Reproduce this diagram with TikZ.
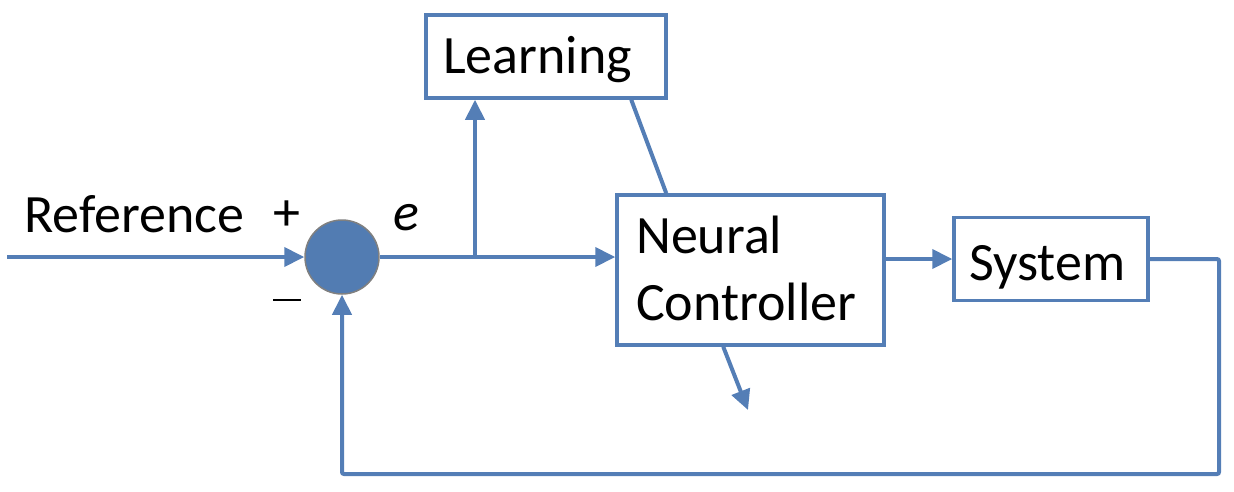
\documentclass[tikz,border=0pt]{standalone}
\usepackage{fontspec}
\setmainfont{Carlito}
\usetikzlibrary{arrows.meta,calc}
\definecolor{lineblue}{RGB}{84,126,182}
\definecolor{fillblue}{RGB}{82,124,178}
\tikzset{
  conn/.style={draw=lineblue, line width=4pt},
  arr/.style={conn, -{Triangle[length=20pt,width=19pt]}},
  blk/.style={draw=lineblue, line width=3.5pt, rectangle, inner sep=0pt},
  lbl/.style={font=\fontsize{54}{64}\selectfont, inner sep=0pt, anchor=base west},
}
\begin{document}
\begin{tikzpicture}[x=1pt,y=-1pt]
\useasboundingbox (0,0) rectangle (1234,491);
% blocks
\node[blk, minimum width=240pt, minimum height=83pt] (learn) at (546,56.5) {};
\node[blk, minimum width=267pt, minimum height=150pt] (nc) at (750.5,270) {};
\node[blk, minimum width=194pt, minimum height=83pt] (sys) at (1051,259) {};
\node[circle, fill=fillblue, draw=gray, line width=1.5pt, minimum size=74pt, inner sep=0pt] (sum) at (342,257) {};
% texts
\node[lbl] (tlearn) at (443,73) {Learning};
\node[lbl] (tneural) at (636,253) {Neural};
\node[lbl] (tctrl) at (636,320) {Controller};
\node[lbl] (tsys) at (969,280) {System};
\node[lbl] (tref) at (24,232) {Reference};
\node[lbl] (tplus) at (273,230) {+};
\node[lbl] (te) at (393,230) {\itshape e};
\node[inner sep=0pt] (tminus) at (287,300) {\rule{28pt}{2.5pt}};
% connectors
\coordinate (in) at (7,257);
\coordinate (br) at (475,257);
\coordinate (outend) at (748,410);
\coordinate (rc) at (1219,474);
\draw[arr] (in) -- (sum.west);
\draw[arr] (sum.east) -- (sum.east -| nc.west);
\draw[arr] (br) -- (br |- learn.south);
\draw[conn] ($(learn.south west)+(207,0)$) -- ($(nc.north west)+(51,0)$);
\draw[arr] (nc.east |- sys.west) -- (sys.west);
\draw[arr] ($(nc.south west)+(108,0)$) -- (outend);
\draw[arr, rounded corners=2pt] (sys.east) -| (rc) -| (sum.south);
\end{tikzpicture}
\end{document}
